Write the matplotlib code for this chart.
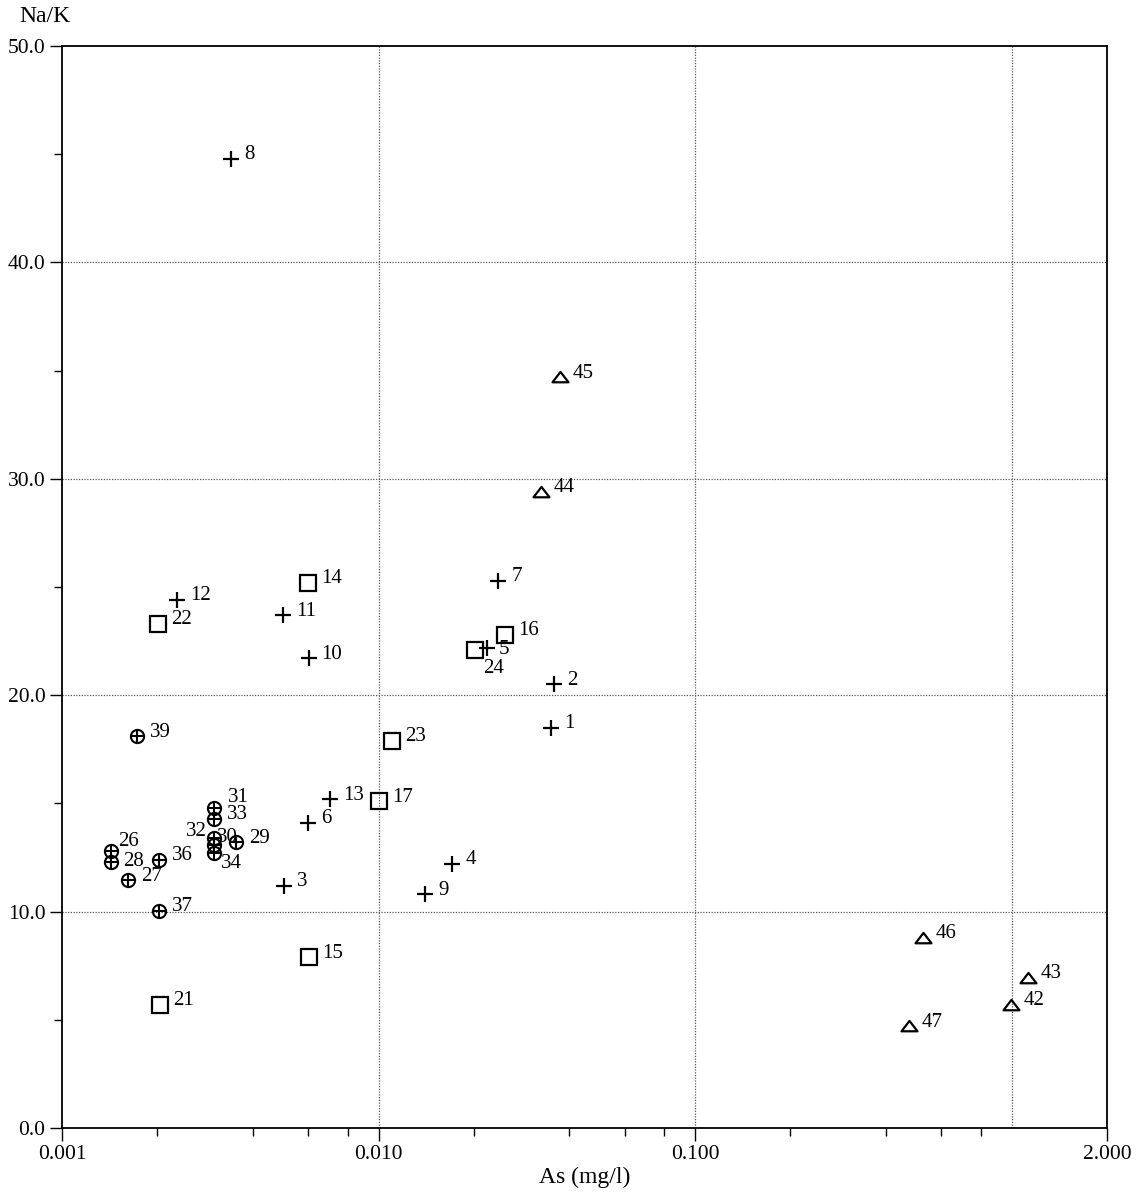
import matplotlib
matplotlib.use("Agg")
import matplotlib.pyplot as plt
from matplotlib.path import Path
from matplotlib.ticker import FixedLocator, NullFormatter

plt.rcParams['font.family'] = ['Liberation Serif', 'DejaVu Serif']

# samples marked "+"
plus_ids = [1, 2, 3, 4, 5, 6, 7, 8, 9, 10, 11, 12, 13]
plus_as = [0.035, 0.0359, 0.00504, 0.0171, 0.022, 0.006, 0.0239, 0.00342, 0.01403, 0.00601, 0.00498, 0.00231, 0.00704]
plus_nak = [18.5, 20.5, 11.2, 12.2, 22.2, 14.1, 25.3, 44.8, 10.8, 21.7, 23.7, 24.4, 15.2]

# samples marked with a square
sq_ids = [14, 15, 16, 17, 21, 22, 23, 24]
sq_as = [0.00598, 0.00605, 0.0251, 0.01005, 0.00204, 0.00201, 0.011, 0.0201]
sq_nak = [25.2, 7.9, 22.8, 15.1, 5.7, 23.3, 17.9, 22.1]

# samples marked with a crossed circle
circ_ids = [26, 27, 28, 29, 30, 31, 32, 33, 34, 36, 37, 39]
circ_as = [0.00143, 0.00162, 0.00143, 0.00354, 0.00302, 0.00302, 0.00302, 0.00302, 0.00302, 0.00203, 0.00202, 0.00173]
circ_nak = [12.8, 11.45, 12.3, 13.2, 13.1, 14.8, 13.4, 14.3, 12.7, 12.4, 10.05, 18.1]

# samples marked with a triangle
tri_ids = [42, 43, 44, 45, 46, 47]
tri_as = [0.993, 1.122, 0.0325, 0.0374, 0.523, 0.474]
tri_nak = [5.7, 6.95, 29.4, 34.7, 8.8, 4.7]

x_major = [0.001, 0.01, 0.1, 2.0]
x_major_labels = ['0.001', '0.010', '0.100', '2.000']
x_minor = [0.002, 0.004, 0.006, 0.008, 0.02, 0.04, 0.06, 0.08, 0.2, 0.4, 0.6, 0.8]
x_grid = [0.01, 0.1, 1.0]
y_major = [0, 10, 20, 30, 40, 50]
y_minor = [5, 15, 25, 35, 45]
y_grid = [10, 20, 30, 40]

# labels that are not simply to the right of their marker (pixel offsets of text centre)
special_offsets = {
    32: (-18, 7),
    30: (13, 7),
    34: (17, -10),
    31: (24, 10),
    26: (17, 10),
    28: (22, 0),
    24: (19, -19),
    5: (17, -2),
}

W, H = 1141, 1192
fig = plt.figure(figsize=(W / 100, H / 100), dpi=100)
ax = fig.add_axes([62 / W, 1 - 1128 / H, (1107 - 62) / W, (1128 - 46) / H])
ax.set_xscale('log')
ax.set_xlim(0.001, 2.0)
ax.set_ylim(0, 50)

# grid
for gx in x_grid:
    ax.axvline(gx, color='0.35', lw=0.9, ls=(0, (1, 1.2)), zorder=1)
for gy in y_grid:
    ax.axhline(gy, color='0.35', lw=0.9, ls=(0, (1, 1.2)), zorder=1)

# markers
ax.plot(plus_as, plus_nak, ls='none', marker='+', ms=12, mew=1.6, color='black', zorder=3)
ax.plot(sq_as, sq_nak, ls='none', marker='s', ms=11.5, mew=1.6, mfc='none', mec='black', zorder=3)
ax.plot(circ_as, circ_nak, ls='none', marker='o', ms=9.5, mew=1.5, mfc='none', mec='black', zorder=3)
ax.plot(circ_as, circ_nak, ls='none', marker='+', ms=9.5, mew=1.5, color='black', zorder=3)
tri_marker = Path([(-1, -0.6), (1, -0.6), (0, 0.7), (-1, -0.6)],
                  [Path.MOVETO, Path.LINETO, Path.LINETO, Path.CLOSEPOLY])
ax.plot(tri_as, tri_nak, ls='none', marker=tri_marker, ms=11.5, mew=1.6, mfc='none', mec='black', zorder=3)

# point labels
all_ids = plus_ids + sq_ids + circ_ids + tri_ids
all_as = plus_as + sq_as + circ_as + tri_as
all_nak = plus_nak + sq_nak + circ_nak + tri_nak
for i, xv, yv in zip(all_ids, all_as, all_nak):
    if i in special_offsets:
        ax.annotate(str(i), (xv, yv), xytext=special_offsets[i], textcoords='offset pixels',
                    ha='center', va='center', fontsize=15, zorder=4)
    else:
        ax.annotate(str(i), (xv, yv), xytext=(13, 4), textcoords='offset pixels',
                    ha='left', va='center', fontsize=15, zorder=4)

# ticks
ax.xaxis.set_major_locator(FixedLocator(x_major))
ax.xaxis.set_minor_locator(FixedLocator(x_minor))
ax.set_xticklabels(x_major_labels)
ax.xaxis.set_minor_formatter(NullFormatter())
ax.set_yticks(y_major)
ax.set_yticklabels([f'{v:.1f}' for v in y_major])
ax.set_yticks(y_minor, minor=True)
ax.tick_params(axis='both', which='major', direction='out', length=9, width=1.0, labelsize=15.5, pad=3)
ax.tick_params(axis='both', which='minor', direction='out', length=6, width=1.0)

for sp in ax.spines.values():
    sp.set_linewidth(1.3)

ax.set_xlabel('As (mg/l)', fontsize=17, labelpad=2)
fig.text(45 / W, 1 - 17 / H, 'Na/K', ha='center', va='center', fontsize=17)

fig.savefig('out.png', dpi=100)
